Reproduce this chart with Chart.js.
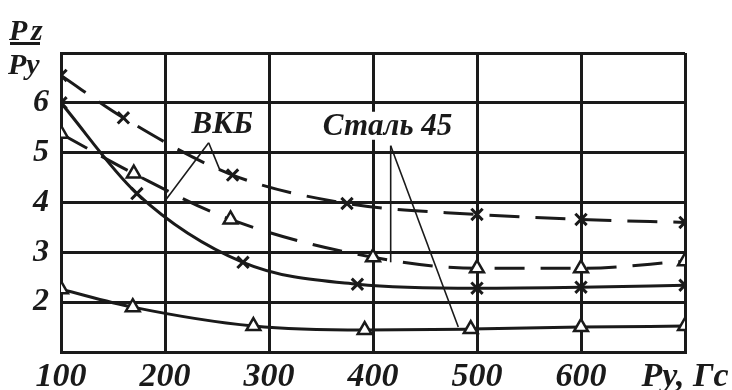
<!DOCTYPE html>
<html>
<head>
<meta charset="utf-8">
<script src="https://cdn.jsdelivr.net/npm/chart.js@4/dist/chart.umd.min.js"></script>
<style>
  body { margin: 0; background: #fff; }
  #wrap { width: 732px; height: 390px; position: relative; }
</style>
</head>
<body>
<div id="wrap"><canvas id="chart"></canvas></div>
<script>
// Py, Гс on x; Pz/Py on y
const xTicks = [100, 200, 300, 400, 500, 600, 700];
const yTicks = [2, 3, 4, 5, 6];

// dashed, crosses
const crossDashX = [100, 160, 265, 375, 500, 600, 700];
const crossDashY = [6.55, 5.7, 4.55, 3.98, 3.76, 3.66, 3.6];
// dashed, triangles
const triDashX = [100, 170, 263, 400, 500, 600, 700];
const triDashY = [5.38, 4.58, 3.66, 2.9, 2.68, 2.68, 2.82];
// solid, crosses
const crossSolidX = [100, 173, 275, 385, 500, 600, 700];
const crossSolidY = [6.0, 4.18, 2.8, 2.36, 2.28, 2.3, 2.34];
// solid, triangles
const triSolidX = [100, 169, 285, 392, 494, 600, 700];
const triSolidY = [2.26, 1.9, 1.52, 1.44, 1.46, 1.5, 1.52];

// labels with leader lines (data units)
const labelText = ["ВКБ", "Сталь 45"];
const labelAt = [[255, 5.55], [414, 5.52]];
const leaderFrom = [[242, 5.2], [417, 5.14]];
const leaderTo = [[[201, 4.06], [253, 4.64]], [[417, 2.8], [482, 1.5]]];

const font = "'Liberation Serif', 'Times New Roman', serif";

function pts(xs, ys) {
    return xs.map((x, i) => ({ x: x, y: ys[i] }));
}

function series(xs, ys, style, dashed) {
    return {
        data: pts(xs, ys),
        borderColor: "#1a1a1a",
        borderWidth: 3,
        borderDash: dashed ? [30, 16] : [],
        cubicInterpolationMode: "monotone",
        pointStyle: style,
        pointRadius: 8,
        pointBorderWidth: style === "triangle" ? 2.5 : 3,
        pointBorderColor: "#1a1a1a",
        pointBackgroundColor: "#fff",
        fill: false
    };
}

const notes = {
    id: "notes",
    afterDatasetsDraw(chart) {
        const ctx = chart.ctx;
        const sx = chart.scales.x, sy = chart.scales.y;
        ctx.save();
        ctx.strokeStyle = "#1a1a1a";
        ctx.lineWidth = 1.6;
        leaderFrom.forEach((f, i) => {
            leaderTo[i].forEach(t => {
                ctx.beginPath();
                ctx.moveTo(sx.getPixelForValue(f[0]), sy.getPixelForValue(f[1]));
                ctx.lineTo(sx.getPixelForValue(t[0]), sy.getPixelForValue(t[1]));
                ctx.stroke();
            });
        });
        ctx.textAlign = "center";
        ctx.textBaseline = "middle";
        ctx.font = "italic bold 31px " + font;
        labelText.forEach((t, i) => {
            const px = sx.getPixelForValue(labelAt[i][0]);
            const py = sy.getPixelForValue(labelAt[i][1]);
            const w = ctx.measureText(t).width;
            ctx.fillStyle = "#fff";
            ctx.fillRect(px - w / 2 - 4, py - 15, w + 8, 28);
            ctx.fillStyle = "#1a1a1a";
            ctx.fillText(t, px, py);
        });
        // y axis title as a fraction
        ctx.fillStyle = "#1a1a1a";
        ctx.textAlign = "left";
        ctx.textBaseline = "alphabetic";
        ctx.font = "italic bold 30px " + font;
        ctx.fillText("P", 9, 40);
        ctx.fillText("z", 31, 40);
        ctx.fillRect(10, 42, 30, 3);
        ctx.fillText("Py", 8, 74);
        ctx.restore();
    }
};

new Chart(document.getElementById("chart"), {
    type: "line",
    data: {
        datasets: [
            series(crossDashX, crossDashY, "crossRot", true),
            series(triDashX, triDashY, "triangle", true),
            series(crossSolidX, crossSolidY, "crossRot", false),
            series(triSolidX, triSolidY, "triangle", false)
        ]
    },
    options: {
        responsive: true,
        maintainAspectRatio: false,
        animation: false,
        layout: { padding: { top: 53, right: 47, left: 0, bottom: 0 } },
        plugins: { legend: { display: false }, tooltip: { enabled: false } },
        scales: {
            x: {
                type: "linear",
                min: 100,
                max: 700,
                afterBuildTicks: s => { s.ticks = xTicks.map(v => ({ value: v })); },
                afterFit: s => { s.height = 38; s.paddingLeft = 0; s.paddingRight = 0; },
                grid: { color: "#1a1a1a", lineWidth: 3, drawTicks: false },
                border: { color: "#1a1a1a", width: 3 },
                ticks: {
                    padding: 5,
                    color: "#1a1a1a",
                    maxRotation: 0,
                    font: { family: font, style: "italic", weight: "bold", size: 34 },
                    callback: v => v === 700 ? "Py, Гс" : v
                }
            },
            y: {
                min: 1,
                max: 7,
                afterBuildTicks: s => { s.ticks = [1].concat(yTicks, [7]).map(v => ({ value: v })); },
                afterFit: s => { s.width = 61; s.paddingTop = 0; s.paddingBottom = 0; },
                grid: { color: "#1a1a1a", lineWidth: 3, drawTicks: false },
                border: { color: "#1a1a1a", width: 3 },
                ticks: {
                    padding: 12,
                    color: "#1a1a1a",
                    font: { family: font, style: "italic", weight: "bold", size: 32 },
                    callback: v => yTicks.includes(v) ? v : ""
                }
            }
        }
    },
    plugins: [notes]
});
</script>
</body>
</html>
